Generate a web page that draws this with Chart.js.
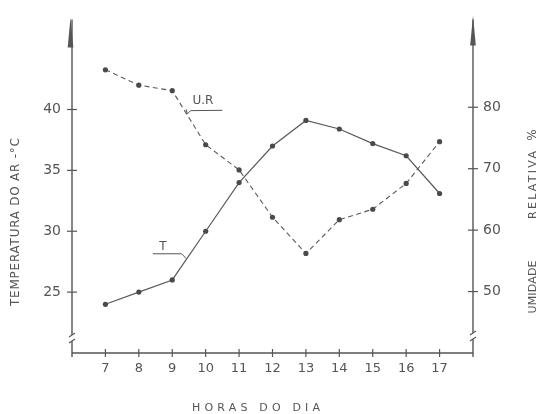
<!DOCTYPE html>
<html><head><meta charset="utf-8">
<script src="https://cdn.jsdelivr.net/npm/chart.js@4"></script>
<style>html,body{margin:0;padding:0;background:#fff}#wrap{width:540px;height:414px}</style>
</head><body><div id="wrap"><canvas id="c" width="540" height="414"></canvas></div>
<script>
// ---- data ----
const hours = [7, 8, 9, 10, 11, 12, 13, 14, 15, 16, 17];
const temperature = [24, 25, 26, 30, 34, 37, 39.1, 38.4, 37.2, 36.2, 33.1];
const humidity = [86.1, 83.6, 82.7, 73.9, 69.8, 62.1, 56.2, 61.7, 63.4, 67.6, 74.4];
const tempTicks = [25, 30, 35, 40];
const humTicks = [50, 60, 70, 80];
const hourTicks = hours;
const xTitle = 'HORAS DO DIA';
const leftTitle = 'TEMPERATURA DO AR -°C';
const rightTitleWords = ['UMIDADE', 'RELATIVA', '%'];
const tLabel = 'T';
const urLabel = 'U.R';

const ink = '#555';
const font = '"DejaVu Sans", "Liberation Sans", sans-serif';

function spacedText(ctx, text, cx, cy, target) {
  ctx.letterSpacing = '0px';
  const w = ctx.measureText(text).width;
  const n = text.length;
  let sp = n > 1 ? (target - w) / (n - 1) : 0;
  if (sp < 0) sp = 0;
  ctx.letterSpacing = sp + 'px';
  const w2 = ctx.measureText(text).width;
  ctx.textAlign = 'left';
  ctx.textBaseline = 'middle';
  ctx.fillText(text, cx - (w2 - sp) / 2, cy);
  ctx.letterSpacing = '0px';
}

const decor = {
  id: 'decor',
  afterDraw(chart) {
    const {ctx, chartArea: a, scales} = chart;
    const sx = scales.x, yT = scales.yT, yH = scales.yH;
    const L = a.left, R = a.right, B = a.bottom, T = a.top;
    ctx.save();
    ctx.strokeStyle = ink; ctx.fillStyle = ink; ctx.lineWidth = 1.4; ctx.lineCap = 'butt';
    const seg = (x1, y1, x2, y2) => { ctx.beginPath(); ctx.moveTo(x1, y1); ctx.lineTo(x2, y2); ctx.stroke(); };
    // x axis
    seg(L, B, R, B);
    // y axes with breaks
    [[L, 338], [R, 336]].forEach(([ax, by]) => {
      seg(ax, T, ax, by - 3);
      seg(ax, by + 3, ax, B + 4);
      ctx.lineWidth = 1.1;
      seg(ax - 3, by - 1, ax + 3, by - 5);
      seg(ax - 3, by + 5, ax + 3, by + 1);
      ctx.lineWidth = 1.4;
    });
    // arrows
    [[L - 1.5, T - 2], [R, T - 4]].forEach(([ax, tip]) => {
      ctx.beginPath();
      ctx.moveTo(ax, tip);
      ctx.lineTo(ax - 2.8, tip + 30);
      ctx.lineTo(ax + 2.8, tip + 30);
      ctx.closePath(); ctx.fill();
    });
    // ticks
    ctx.lineWidth = 1.2;
    tempTicks.forEach(v => { const y = yT.getPixelForValue(v); seg(L - 5, y, L + 5, y); });
    humTicks.forEach(v => { const y = yH.getPixelForValue(v); seg(R - 5, y, R + 5, y); });
    hourTicks.forEach(v => { const x = sx.getPixelForValue(v); seg(x, B - 4, x, B + 4); });
    // titles
    ctx.fillStyle = ink;
    ctx.font = '11px ' + font;
    spacedText(ctx, xTitle, 256, 408, 128);
    ctx.save();
    ctx.translate(16, 222); ctx.rotate(-Math.PI / 2);
    ctx.font = '12px ' + font;
    spacedText(ctx, leftTitle, 0, 0, 168);
    ctx.restore();
    ctx.save();
    ctx.translate(533, 0); ctx.rotate(-Math.PI / 2);
    ctx.font = '11px ' + font;
    spacedText(ctx, rightTitleWords[0], -287, 0, 53);
    spacedText(ctx, rightTitleWords[1], -185, 0, 68);
    ctx.textAlign = 'center';
    ctx.font = '12px ' + font;
    ctx.fillText(rightTitleWords[2], -135, 0);
    ctx.restore();
    // labels with leaders
    ctx.font = '12px ' + font;
    ctx.textAlign = 'center'; ctx.textBaseline = 'middle';
    ctx.lineWidth = 1;
    // U.R
    const ux = v => sx.getPixelForValue(v), uy = v => yH.getPixelForValue(v);
    ctx.fillText(urLabel, ux(9.92), uy(81));
    ctx.beginPath();
    ctx.moveTo(ux(9.42), uy(79.5) - 1);
    ctx.lineTo(ux(9.45), uy(78.9));
    ctx.lineTo(ux(9.55), uy(79.45));
    ctx.lineTo(ux(10.5), uy(79.5));
    ctx.stroke();
    // T
    const ty = v => yT.getPixelForValue(v);
    ctx.fillText(tLabel, ux(8.72), ty(28.75));
    ctx.beginPath();
    ctx.moveTo(ux(8.42), ty(28.15));
    ctx.lineTo(ux(9.28), ty(28.15));
    ctx.lineTo(ux(9.42), ty(27.75));
    ctx.stroke();
    ctx.restore();
  }
};

const tickFont = {family: font, size: 13};
new Chart(document.getElementById('c'), {
  type: 'line',
  data: {
    datasets: [
      {
        label: 'T',
        data: hours.map((h, i) => ({x: h, y: temperature[i]})),
        yAxisID: 'yT',
        borderColor: '#5a5a5a', backgroundColor: '#4a4a4a',
        borderWidth: 1.2, pointRadius: 2.6, pointBorderWidth: 0,
        tension: 0, fill: false
      },
      {
        label: 'U.R',
        data: hours.map((h, i) => ({x: h, y: humidity[i]})),
        yAxisID: 'yH',
        borderColor: '#5a5a5a', backgroundColor: '#4a4a4a',
        borderWidth: 1.1, borderDash: [5, 3.5], pointRadius: 2.6, pointBorderWidth: 0,
        tension: 0, fill: false
      }
    ]
  },
  options: {
    responsive: false, animation: false, devicePixelRatio: 1,
    layout: {padding: {top: 15, left: 0, right: 0, bottom: 0}},
    plugins: {legend: {display: false}, tooltip: {enabled: false}},
    scales: {
      x: {
        type: 'linear', position: 'bottom', min: 6, max: 18,
        grid: {display: false, drawTicks: false}, border: {display: false},
        ticks: {stepSize: 1, maxTicksLimit: 20, autoSkip: false, maxRotation: 0, padding: 8,
          font: tickFont, color: ink,
          callback: v => hourTicks.includes(v) ? String(v) : ''},
        afterFit: s => { s.height = 61; }
      },
      yT: {
        type: 'linear', position: 'left', min: 20, max: 47.4,
        grid: {display: false, drawTicks: false}, border: {display: false},
        ticks: {stepSize: 5, padding: 11, font: {family: font, size: 14}, color: ink,
          callback: v => tempTicks.includes(v) ? String(v) : ''},
        afterFit: s => { s.width = 72; }
      },
      yH: {
        type: 'linear', position: 'right', min: 40, max: 94.3,
        grid: {display: false, drawTicks: false}, border: {display: false},
        ticks: {stepSize: 10, padding: 10, font: {family: font, size: 14}, color: ink,
          callback: v => humTicks.includes(v) ? String(v) : ''},
        afterFit: s => { s.width = 67; }
      }
    }
  },
  plugins: [decor]
});
</script>
</body></html>
